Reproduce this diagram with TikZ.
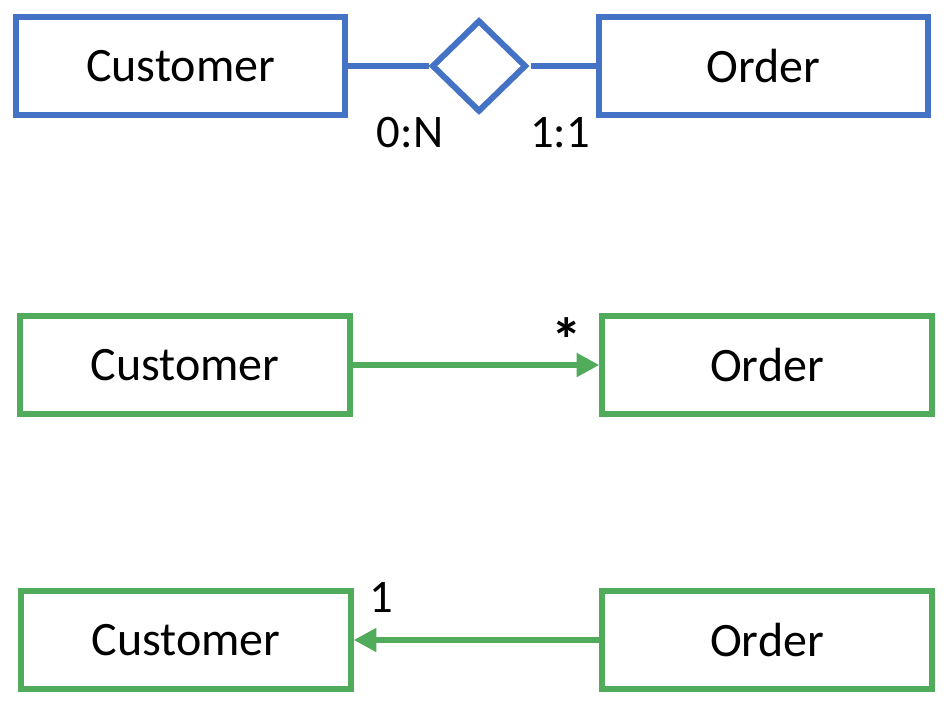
\documentclass[tikz,border=0pt]{standalone}
\usepackage{fontspec}
\setmainfont{Carlito}
\usepackage{xcolor}
\usetikzlibrary{shapes.geometric,arrows.meta}

\definecolor{erblue}{RGB}{68,114,196}
\definecolor{umlgreen}{RGB}{80,172,90}

\begin{document}
\begin{tikzpicture}[x=0.75pt,y=0.75pt,yscale=-1,xscale=1,
    entity/.style={draw,line width=4.5pt,rectangle,minimum width=247pt,minimum height=73pt,inner sep=0pt,font=\fontsize{36}{42}\selectfont},
    relship/.style={draw=erblue,line width=4.5pt,diamond,minimum width=71pt,minimum height=69pt,inner sep=0pt},
    card/.style={inner sep=0.75pt,font=\fontsize{35}{40}\selectfont},
    link/.style={line width=4.5pt},
    navarrow/.style={line width=4.5pt,-{Triangle[length=17pt,width=17pt]}}]
        \path (0,0) rectangle (952,708); %set diagram size
  
        %Shape: Rectangle [ER]
        \node [entity,draw=erblue] (erCust) at (180.5,66) {Customer};
        %Shape: Rectangle [ER]
        \node [entity,draw=erblue] (erOrd) at (763.5,66) {Order};
        %Shape: Diamond [ER]
        \node [relship] (erRel) at (479,66) {};
        %Straight Lines [ER]
        \draw [link,draw=erblue] (erCust.east) -- (erRel.west) ;
        \draw [link,draw=erblue] ([xshift=1.5pt]erRel.east) -- (erOrd.west) ;
        % Text Node
        \node [card] (erCardL) at (410,133) {0:N};
        % Text Node
        \node [card] (erCardR) at (560,133) {1:1};
  
        %Shape: Rectangle [UML, Customer to Order]
        \node [entity,draw=umlgreen] (toCust) at (185,365) {Customer};
        %Shape: Rectangle [UML, Customer to Order]
        \node [entity,draw=umlgreen] (toOrd) at (767,365) {Order};
        %Straight Lines [id:arrow1]
        \draw [navarrow,draw=umlgreen,fill=umlgreen] (toCust.east) -- (toOrd.west) ;
        % Text Node
        \node [card,font=\fontsize{46}{50}\bfseries] (toMany) at (567,340) {*};
  
        %Shape: Rectangle [UML, Order to Customer]
        \node [entity,draw=umlgreen] (backCust) at (186,640) {Customer};
        %Shape: Rectangle [UML, Order to Customer]
        \node [entity,draw=umlgreen] (backOrd) at (767,640) {Order};
        %Straight Lines [id:arrow2]
        \draw [navarrow,draw=umlgreen,fill=umlgreen] (backOrd.west) -- (backCust.east) ;
        % Text Node
        \node [card] (backOne) at (381,597) {1};
  
\end{tikzpicture}
\end{document}
